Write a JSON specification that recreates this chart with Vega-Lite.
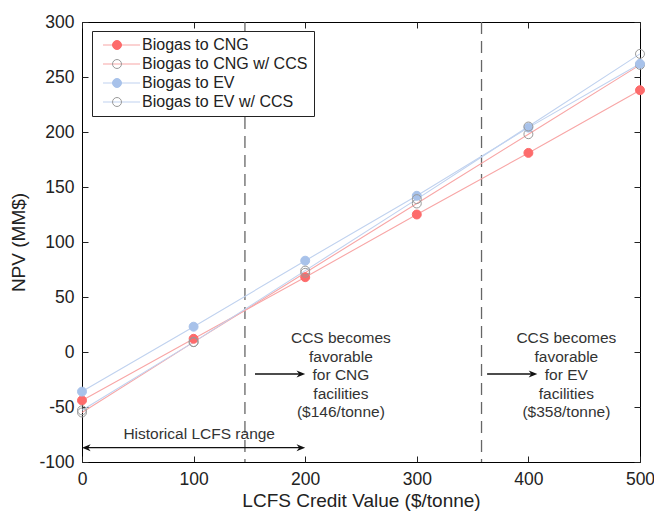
{
  "$schema": "https://vega.github.io/schema/vega-lite/v6.json",
  "width": 558,
  "height": 440,
  "autosize": {"type": "none"},
  "padding": {"left": 82, "top": 22, "right": 14, "bottom": 50},
  "background": "white",
  "config": {
    "font": "Liberation Sans",
    "view": {"stroke": "black", "strokeWidth": 1},
    "axis": {"grid": false, "domain": false, "tickColor": "#222", "tickSize": -6, "labelColor": "#222", "titleColor": "#222", "labelFontSize": 17.5, "titleFontSize": 19, "titleFontWeight": "normal", "labelFlush": false, "labelOverlap": false}
  },
  "datasets": {
    "npv": [
      {"series": "Biogas to CNG", "x": 0, "y": -44},
      {"series": "Biogas to CNG", "x": 100, "y": 12},
      {"series": "Biogas to CNG", "x": 200, "y": 68},
      {"series": "Biogas to CNG", "x": 300, "y": 125},
      {"series": "Biogas to CNG", "x": 400, "y": 181},
      {"series": "Biogas to CNG", "x": 500, "y": 238},
      {"series": "Biogas to CNG w/ CCS", "x": 0, "y": -55},
      {"series": "Biogas to CNG w/ CCS", "x": 100, "y": 9},
      {"series": "Biogas to CNG w/ CCS", "x": 200, "y": 72},
      {"series": "Biogas to CNG w/ CCS", "x": 300, "y": 135},
      {"series": "Biogas to CNG w/ CCS", "x": 400, "y": 198},
      {"series": "Biogas to CNG w/ CCS", "x": 500, "y": 261},
      {"series": "Biogas to EV", "x": 0, "y": -36},
      {"series": "Biogas to EV", "x": 100, "y": 23},
      {"series": "Biogas to EV", "x": 200, "y": 83},
      {"series": "Biogas to EV", "x": 300, "y": 142},
      {"series": "Biogas to EV", "x": 400, "y": 204},
      {"series": "Biogas to EV", "x": 500, "y": 262},
      {"series": "Biogas to EV w/ CCS", "x": 0, "y": -53},
      {"series": "Biogas to EV w/ CCS", "x": 100, "y": 9},
      {"series": "Biogas to EV w/ CCS", "x": 200, "y": 74},
      {"series": "Biogas to EV w/ CCS", "x": 300, "y": 139},
      {"series": "Biogas to EV w/ CCS", "x": 400, "y": 205},
      {"series": "Biogas to EV w/ CCS", "x": 500, "y": 271}
    ],
    "vlines": [{"x": 146}, {"x": 358}],
    "notes": [
      {"x": 232, "y": 12.7, "text": ["CCS becomes", "favorable", "for CNG", "facilities", "($146/tonne)"]},
      {"x": 434, "y": 12.7, "text": ["CCS becomes", "favorable", "for EV", "facilities", "($358/tonne)"]},
      {"x": 105, "y": -74.5, "text": ["Historical LCFS range"]}
    ],
    "arrows": [
      {"x1": 155, "x2": 196, "y": -20},
      {"x1": 363, "x2": 404, "y": -20},
      {"x1": 4, "x2": 196, "y": -87}
    ],
    "rheads": [
      {"x": 200, "y": -20},
      {"x": 408, "y": -20},
      {"x": 200, "y": -87}
    ],
    "lheads": [
      {"x": 0, "y": -87}
    ]
  },
  "layer": [
    {
      "data": {"name": "vlines"},
      "mark": {"type": "rule", "color": "#666", "strokeWidth": 1.3, "strokeDash": [12, 7]},
      "encoding": {
        "x": {"field": "x", "type": "quantitative", "axis": null, "scale": {"domain": [0, 500], "nice": false}}
      }
    },
    {
      "data": {"name": "npv"},
      "mark": {"type": "line", "strokeWidth": 1.1},
      "encoding": {
        "x": {"field": "x", "type": "quantitative", "scale": {"domain": [0, 500], "nice": false}, "title": "LCFS Credit Value ($/tonne)", "axis": {"orient": "bottom", "values": [0, 100, 200, 300, 400, 500], "labelPadding": 14, "titlePadding": 4}},
        "y": {"field": "y", "type": "quantitative", "scale": {"domain": [-100, 300], "nice": false}, "title": "NPV (MM$)", "axis": {"orient": "left", "values": [-100, -50, 0, 50, 100, 150, 200, 250, 300], "labelPadding": 14, "titlePadding": 10, "labelExpr": "replace(datum.label, '−', '-')"}},
        "color": {
          "field": "series", "type": "nominal",
          "scale": {"domain": ["Biogas to CNG", "Biogas to CNG w/ CCS", "Biogas to EV", "Biogas to EV w/ CCS"], "range": ["#f8a6a6", "#f8a6a6", "#c0d2ef", "#c0d2ef"]},
          "legend": {"orient": "none", "legendX": 10, "legendY": 9, "title": null, "symbolType": "M-1.5,0H17", "symbolSize": 16, "symbolStrokeWidth": 1.2, "labelFontSize": 16, "labelColor": "#222", "labelOffset": 28, "rowPadding": 3, "padding": 6, "strokeColor": "#222", "fillColor": "white", "labelLimit": 300}
        }
      }
    },
    {
      "data": {"name": "npv"},
      "mark": {"type": "point", "filled": true, "size": 80, "strokeWidth": 1, "opacity": 1},
      "encoding": {
        "x": {"field": "x", "type": "quantitative", "axis": {"orient": "top", "labels": false, "title": null, "values": [0, 100, 200, 300, 400, 500]}},
        "y": {"field": "y", "type": "quantitative", "axis": {"orient": "right", "labels": false, "title": null, "values": [-100, -50, 0, 50, 100, 150, 200, 250, 300]}},
        "fill": {
          "field": "series", "type": "nominal",
          "scale": {"domain": ["Biogas to CNG", "Biogas to CNG w/ CCS", "Biogas to EV", "Biogas to EV w/ CCS", " "], "range": ["#fd6b6b", "transparent", "#a8c2ea", "transparent", "transparent"]},
          "legend": {"orient": "none", "legendX": 22, "legendY": 10, "title": null, "symbolType": "circle", "symbolSize": 80, "symbolStrokeWidth": 1, "labelFontSize": 16, "labelColor": "transparent", "labelExpr": "''", "labelOffset": 5, "rowPadding": 3, "padding": 5, "labelLimit": 300}
        },
        "stroke": {
          "field": "series", "type": "nominal",
          "scale": {"domain": ["Biogas to CNG", "Biogas to CNG w/ CCS", "Biogas to EV", "Biogas to EV w/ CCS", " "], "range": ["#fd6b6b", "#999999", "#a8c2ea", "#999999", "transparent"]},
          "legend": {"orient": "none", "legendX": 22, "legendY": 10, "title": null, "symbolType": "circle", "symbolSize": 80, "symbolStrokeWidth": 1, "labelFontSize": 16, "labelColor": "transparent", "labelExpr": "''", "labelOffset": 5, "rowPadding": 3, "padding": 5, "labelLimit": 300}
        }
      }
    },
    {
      "data": {"name": "notes"},
      "mark": {"type": "text", "fontSize": 15.5, "color": "#333", "lineHeight": 18.5, "align": "center", "baseline": "middle"},
      "encoding": {
        "x": {"field": "x", "type": "quantitative", "axis": null},
        "y": {"field": "y", "type": "quantitative", "axis": null},
        "text": {"field": "text"}
      }
    },
    {
      "data": {"name": "arrows"},
      "mark": {"type": "rule", "color": "#111", "strokeWidth": 1.3},
      "encoding": {
        "x": {"field": "x1", "type": "quantitative", "axis": null},
        "x2": {"field": "x2"},
        "y": {"field": "y", "type": "quantitative", "axis": null}
      }
    },
    {
      "data": {"name": "rheads"},
      "mark": {"type": "point", "filled": true, "color": "#111", "size": 300, "opacity": 1, "shape": "M0,0L-1,-0.4L-0.7,0L-1,0.4Z"},
      "encoding": {
        "x": {"field": "x", "type": "quantitative", "axis": null},
        "y": {"field": "y", "type": "quantitative", "axis": null}
      }
    },
    {
      "data": {"name": "lheads"},
      "mark": {"type": "point", "filled": true, "color": "#111", "size": 300, "opacity": 1, "shape": "M0,0L1,-0.4L0.7,0L1,0.4Z"},
      "encoding": {
        "x": {"field": "x", "type": "quantitative", "axis": null},
        "y": {"field": "y", "type": "quantitative", "axis": null}
      }
    }
  ],
  "resolve": {"axis": {"x": "independent", "y": "independent"}}
}
